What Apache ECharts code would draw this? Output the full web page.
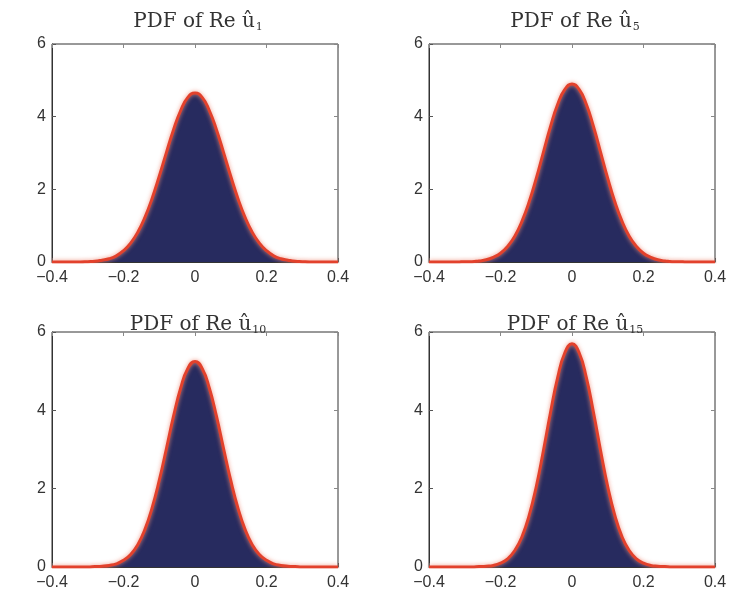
<!DOCTYPE html>
<html><head><meta charset="utf-8">
<script src="https://cdn.jsdelivr.net/npm/echarts@6/dist/echarts.min.js"></script>
<style>html,body{margin:0;padding:0;background:#fff}#c{width:736px;height:595px}</style>
</head><body><div id="c"></div>
<script>
const xs = [-0.40,-0.38,-0.36,-0.34,-0.32,-0.30,-0.28,-0.26,-0.24,-0.22,-0.20,-0.18,-0.16,-0.14,-0.12,-0.10,-0.08,-0.06,-0.04,-0.02,0.00,0.02,0.04,0.06,0.08,0.10,0.12,0.14,0.16,0.18,0.20,0.22,0.24,0.26,0.28,0.30,0.32,0.34,0.36,0.38,0.40];
const pdf1 = [0,0,0,0,0,0.01,0.02,0.05,0.09,0.17,0.31,0.52,0.82,1.23,1.75,2.36,3.01,3.64,4.17,4.53,4.65,4.53,4.17,3.64,3.01,2.36,1.75,1.23,0.82,0.52,0.31,0.17,0.09,0.05,0.02,0.01,0,0,0,0,0];
const pdf5 = [0,0,0,0,0,0.01,0.01,0.03,0.06,0.13,0.24,0.43,0.71,1.12,1.65,2.30,3.02,3.73,4.34,4.75,4.90,4.75,4.34,3.73,3.02,2.30,1.65,1.12,0.71,0.43,0.24,0.13,0.06,0.03,0.01,0.01,0,0,0,0,0];
const pdf10 = [0,0,0,0,0,0,0.01,0.02,0.04,0.08,0.17,0.32,0.57,0.96,1.51,2.21,3.02,3.85,4.57,5.07,5.25,5.07,4.57,3.85,3.02,2.21,1.51,0.96,0.57,0.32,0.17,0.08,0.04,0.02,0.01,0,0,0,0,0,0];
const pdf15 = [0,0,0,0,0,0,0,0.01,0.02,0.04,0.10,0.21,0.42,0.77,1.31,2.05,2.97,3.95,4.84,5.47,5.70,5.47,4.84,3.95,2.97,2.05,1.31,0.77,0.42,0.21,0.10,0.04,0.02,0.01,0,0,0,0,0,0,0];
const titles = [['PDF of Re û','1'],['PDF of Re û','5'],['PDF of Re û','10'],['PDF of Re û','15']];
const xTicks = [-0.4,-0.2,0,0.2,0.4];
const yTicks = [0,2,4,6];
const panels = [pdf1,pdf5,pdf10,pdf15];

const grids = [
  {left:52, top:44, width:286, height:218},
  {left:429, top:44, width:286, height:218},
  {left:52, top:332, width:286, height:235},
  {left:429, top:332, width:286, height:235}
];
const titlePos = [[193,5],[570,5],[193,308],[570,308]];
const lab = {fontFamily:'Liberation Sans, Arial, sans-serif', fontSize:16, color:'#333'};
const fmt = v => String(v).replace('-','\u2212');
const opt = {animation:false, backgroundColor:'#fff', title:[], grid:[], xAxis:[], yAxis:[], series:[]};
grids.forEach((g,i)=>{
  opt.grid.push(Object.assign({show:true, borderColor:'#333', borderWidth:1, backgroundColor:'#fff'}, g));
  opt.title.push({text:'{m|'+titles[i][0]+'}{s|'+titles[i][1]+'}', left:titlePos[i][0], top:titlePos[i][1], textAlign:'center',
    textStyle:{fontWeight:'normal', rich:{m:{fontFamily:'DejaVu Serif, serif', fontSize:20, fontWeight:'normal', color:'#333'},
                     s:{fontFamily:'DejaVu Serif, serif', fontSize:11, fontWeight:'normal', color:'#333', padding:[12,0,0,1]}}}});
  const base = {gridIndex:i, type:'value', min:-0.4, max:0.4, interval:0.2};
  opt.xAxis.push(Object.assign({}, base, {position:'bottom',
    axisLine:{show:true, onZero:false, lineStyle:{color:'#333'}}, axisTick:{inside:true, length:4, lineStyle:{color:'#555'}},
    splitLine:{show:false}, axisLabel:Object.assign({formatter:fmt, margin:8}, lab)}));
  opt.xAxis.push(Object.assign({}, base, {position:'top',
    axisLine:{show:false, onZero:false}, axisTick:{inside:true, length:4, lineStyle:{color:'#888'}},
    splitLine:{show:false}, axisLabel:{show:false}}));
  const ybase = {gridIndex:i, type:'value', min:0, max:6, interval:2};
  opt.yAxis.push(Object.assign({}, ybase, {position:'left',
    axisLine:{show:true, onZero:false, lineStyle:{color:'#333'}}, axisTick:{inside:true, length:4, lineStyle:{color:'#555'}},
    splitLine:{show:false}, axisLabel:Object.assign({margin:6}, lab)}));
  opt.yAxis.push(Object.assign({}, ybase, {position:'right',
    axisLine:{show:false, onZero:false}, axisTick:{inside:true, length:4, lineStyle:{color:'#888'}},
    splitLine:{show:false}, axisLabel:{show:false}}));
  const data = xs.map((x,k)=>[x, panels[i][k]]);
  opt.series.push({type:'line', xAxisIndex:2*i, yAxisIndex:2*i, data:data, smooth:0.5, symbol:'none',
    lineStyle:{width:0}, areaStyle:{color:'#272b5f', opacity:1}, z:2});
  opt.series.push({type:'line', xAxisIndex:2*i, yAxisIndex:2*i, data:data, smooth:0.5, symbol:'none',
    lineStyle:{width:3, color:'#e2412c', shadowColor:'rgba(240,140,120,0.9)', shadowBlur:4}, z:3});
});
const chart = echarts.init(document.getElementById('c'), null, {renderer:'canvas'});
chart.setOption(opt);
</script></body></html>
